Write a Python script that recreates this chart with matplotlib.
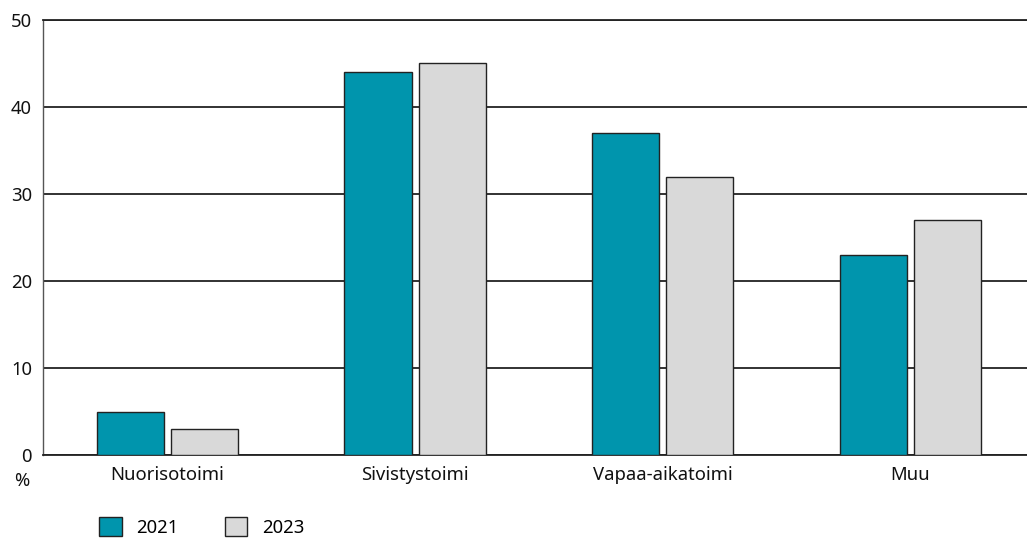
import numpy as np
import matplotlib.pyplot as plt
from matplotlib.patches import Patch

plt.rcParams['font.family'] = ['Noto Sans', 'DejaVu Sans']

categories = ["Nuorisotoimi", "Sivistystoimi", "Vapaa-aikatoimi", "Muu"]
years = ["2021", "2023"]
values_2021 = [5, 44, 37, 23]
values_2023 = [3, 45, 32, 27]
colors = ["#0095AD", "#D9D9D9"]

fs = 13.3

fig = plt.figure(figsize=(10.27, 5.4), dpi=100)
ax = fig.add_axes([43 / 1027, 85 / 540, 984 / 1027, 435 / 540])

x = np.arange(len(categories))
w = 0.271
ax.bar(x - 0.150, values_2021, w, color=colors[0], edgecolor="#222222", linewidth=1.0, zorder=3)
ax.bar(x + 0.150, values_2023, w, color=colors[1], edgecolor="#222222", linewidth=1.0, zorder=3)

ax.set_xlim(-0.503, 3.471)
ax.set_ylim(0, 50)
ax.set_yticks(range(0, 51, 10))
ax.set_xticks(x)
ax.set_xticklabels(categories)
ax.tick_params(length=0, labelsize=fs, colors="#111111")
ax.tick_params(axis="x", pad=8)
ax.tick_params(axis="y", pad=8)
ax.yaxis.grid(True, color="#222222", linewidth=1.3, zorder=0)
ax.set_axisbelow(True)
ax.spines["right"].set_visible(False)
ax.spines["top"].set_color("#222222")
ax.spines["top"].set_linewidth(1.3)
ax.spines["left"].set_color("#555555")
ax.spines["left"].set_linewidth(1.0)
ax.spines["bottom"].set_color("#222222")
ax.spines["bottom"].set_linewidth(1.3)

fig.text(22 / 1027, 1 - 481 / 540, "%", fontsize=fs, ha="center", va="center", color="#111111")

handles = [Patch(facecolor=c, edgecolor="#222222", linewidth=1.0) for c in colors]
fig.legend(handles, years, loc="center left", bbox_to_anchor=(92 / 1027, 1 - 527 / 540),
           ncol=2, frameon=False, fontsize=fs, handlelength=1.2, handleheight=1.2,
           handletextpad=0.8, columnspacing=2.5, borderaxespad=0)

fig.savefig("out.png", dpi=100)
